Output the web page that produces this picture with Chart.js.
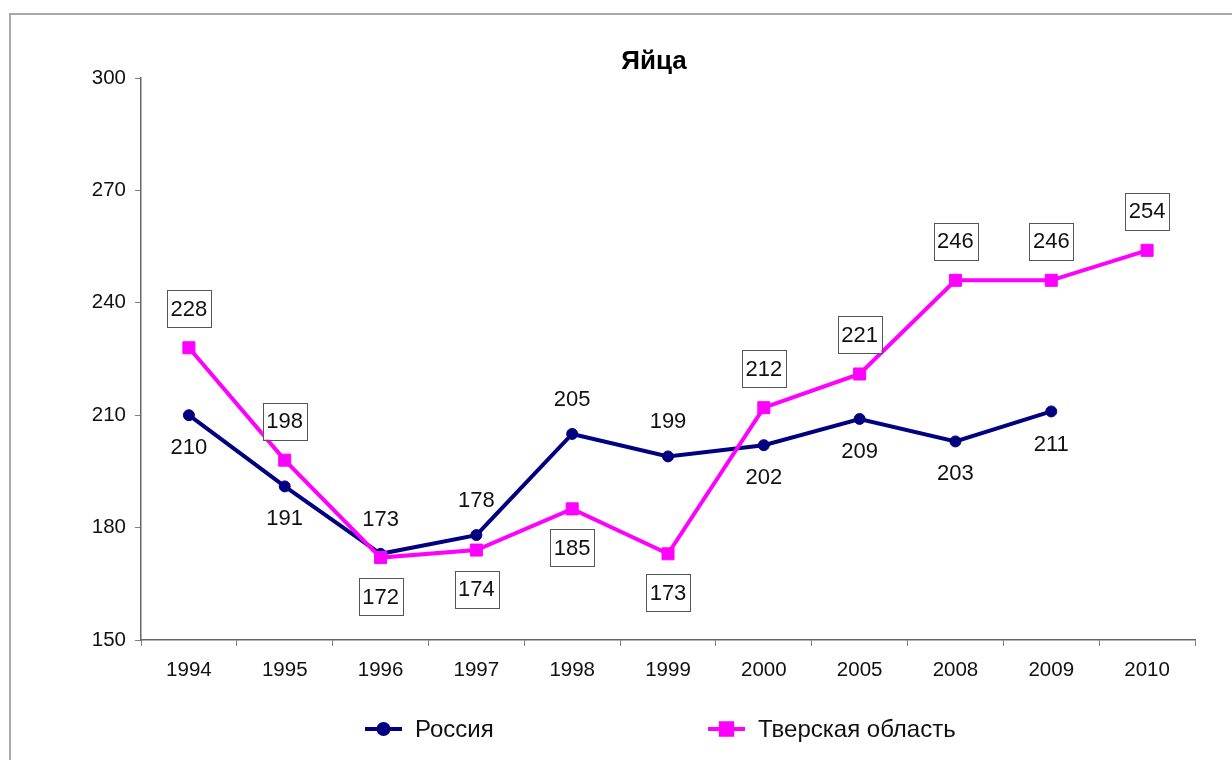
<!DOCTYPE html>
<html><head><meta charset="utf-8">
<script src="https://cdn.jsdelivr.net/npm/chart.js@4.4.0/dist/chart.umd.min.js"></script>
<style>
html,body{margin:0;padding:0;background:#fff;overflow:hidden;width:1232px;height:760px;}
#frame{position:absolute;left:9px;top:13px;width:1300px;height:800px;border-top:2px solid #a8a8a8;border-left:2px solid #a8a8a8;}
canvas{position:absolute;left:0;top:0;}
</style></head><body>
<div id="frame"></div>
<canvas id="c" width="1232" height="760"></canvas>
<script>
const chartTitle = 'Яйца';
const categories = ['1994','1995','1996','1997','1998','1999','2000','2005','2008','2009','2010'];
const seriesNames = ['Россия','Тверская область'];
const russia = [210,191,173,178,205,199,202,209,203,211,null];
const tver = [228,198,172,174,185,173,212,221,246,246,254];
const yMin = 150, yMax = 300, yStep = 30;
// label placement: 'a' above, 'b' below
const russiaLabelPos = ['b','b','a','a','a','a','b','b','b','b','b'];
const tverLabelPos = ['a','a','b','b','b','b','a','a','a','a','a'];

const NAVY = '#000080', MAGENTA = '#FF00FF';
const FONT = '"Liberation Sans", Arial, sans-serif';

const overlay = {
  id: 'overlay',
  afterDatasetsDraw(chart) {
    const ctx = chart.ctx;
    ctx.save();
    chart.data.datasets.forEach((ds, di) => {
      const meta = chart.getDatasetMeta(di);
      meta.data.forEach((pt, i) => {
        const v = ds.data[i];
        if (v == null) return;
        const txt = String(v);
        const above = ds.labelPos[i] === 'a';
        ctx.font = '22px ' + FONT;
        ctx.textAlign = 'center';
        ctx.textBaseline = 'middle';
        if (ds.boxed) {
          const cy = pt.y + (above ? -39 : 39);
          const w = ctx.measureText(txt).width + 7;
          const h = 37;
          ctx.fillStyle = '#fff';
          ctx.fillRect(pt.x - w / 2, cy - h / 2, w, h);
          ctx.strokeStyle = '#555';
          ctx.lineWidth = 1;
          ctx.strokeRect(Math.round(pt.x - w / 2) + 0.5, Math.round(cy - h / 2) + 0.5, Math.round(w), h);
          ctx.fillStyle = '#111';
          ctx.fillText(txt, pt.x, cy + 1);
        } else {
          const cy = pt.y + (above ? -34 : 33);
          ctx.fillStyle = '#111';
          ctx.fillText(txt, pt.x, cy);
        }
      });
    });
    ctx.restore();
  },
  afterDraw(chart) {
    const ctx = chart.ctx, ca = chart.chartArea;
    ctx.save();
    // title
    ctx.font = 'bold 26px ' + FONT;
    ctx.fillStyle = '#000';
    ctx.textAlign = 'center';
    ctx.textBaseline = 'middle';
    ctx.fillText(chartTitle, (ca.left + ca.right) / 2 - 14, 62);
    // legend
    const ly = 729;
    const items = [
      {x: ca.left + 224, ds: chart.data.datasets[0]},
      {x: ca.left + 567, ds: chart.data.datasets[1]}
    ];
    items.forEach(it => {
      const ds = it.ds;
      ctx.strokeStyle = ds.borderColor;
      ctx.lineWidth = 4;
      ctx.beginPath();
      ctx.moveTo(it.x, ly);
      ctx.lineTo(it.x + 37, ly);
      ctx.stroke();
      Chart.helpers.drawPoint(ctx, {pointStyle: ds.pointStyle, radius: ds.pointRadius - 0.5, borderWidth: 1, rotation: 0}, it.x + 18.5, ly);
      ctx.fillStyle = ds.pointBackgroundColor;
      ctx.strokeStyle = ds.pointBorderColor;
      ctx.fill();
      ctx.font = '24px ' + FONT;
      ctx.fillStyle = '#111';
      ctx.textAlign = 'left';
      ctx.fillText(ds.label, it.x + 50, ly + 1);
    });
    ctx.restore();
  }
};

new Chart(document.getElementById('c'), {
  type: 'line',
  data: {
    labels: categories,
    datasets: [
      {label: seriesNames[0], data: russia, labelPos: russiaLabelPos, boxed: false, order: 1,
       borderColor: NAVY, backgroundColor: NAVY, borderWidth: 4, tension: 0,
       pointStyle: 'circle', pointRadius: 5.5, pointBackgroundColor: NAVY, pointBorderColor: NAVY, pointBorderWidth: 1},
      {label: seriesNames[1], data: tver, labelPos: tverLabelPos, boxed: true, order: 0,
       borderColor: MAGENTA, backgroundColor: MAGENTA, borderWidth: 4, tension: 0,
       pointStyle: 'rect', pointRadius: 8.5, pointBackgroundColor: MAGENTA, pointBorderColor: MAGENTA, pointBorderWidth: 1}
    ]
  },
  options: {
    responsive: false,
    animation: false,
    devicePixelRatio: 1,
    layout: {padding: {left: 0, top: 78, right: 37, bottom: 60}},
    plugins: {legend: {display: false}, title: {display: false}, tooltip: {enabled: false}},
    scales: {
      x: {
        offset: true,
        grid: {display: true, offset: true, drawOnChartArea: false, drawTicks: true, tickLength: 6, color: '#808080'},
        border: {display: true, color: '#666', width: 1.5},
        ticks: {color: '#111', font: {family: FONT, size: 20.5}, padding: 12, maxRotation: 0, autoSkip: false},
        afterFit(s) { s.height = 60; }
      },
      y: {
        min: yMin, max: yMax,
        grid: {display: true, drawOnChartArea: false, drawTicks: true, tickLength: 6, color: '#808080'},
        border: {display: true, color: '#666', width: 1.5},
        ticks: {stepSize: yStep, color: '#111', font: {family: FONT, size: 20.5}, padding: 9},
        afterFit(s) { s.width = 141; }
      }
    }
  },
  plugins: [overlay]
});
</script>
</body></html>
